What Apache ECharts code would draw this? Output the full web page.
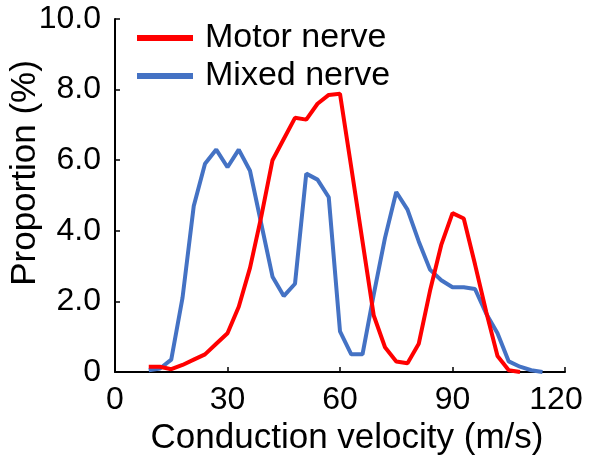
<!DOCTYPE html>
<html>
<head>
<meta charset="utf-8">
<script src="https://cdn.jsdelivr.net/npm/echarts@6/dist/echarts.min.js"></script>
<style>
html,body{margin:0;padding:0;background:#fff;}
#chart{width:600px;height:459px;}
</style>
</head>
<body>
<div id="chart"></div>
<script>
var velocity = [9,12,15,18,21,24,27,30,33,36,39,42,45,48,51,54,57,60,63,66,69,72,75,78,81,84,87,90,93,96,99,102,105,108,111,114];
var motorNerve = [0.15,0.15,0.08,0.2,0.35,0.5,0.8,1.1,1.85,2.95,4.4,6.0,6.6,7.2,7.15,7.6,7.85,7.88,5.8,3.7,1.6,0.7,0.3,0.25,0.8,2.3,3.6,4.5,4.35,3.05,1.7,0.45,0.05,0.0,null,null];
var mixedNerve = [0.05,0.1,0.35,2.1,4.7,5.9,6.3,5.8,6.3,5.7,4.2,2.7,2.15,2.5,5.62,5.45,4.95,1.15,0.5,0.5,2.2,3.8,5.1,4.6,3.7,2.9,2.6,2.4,2.4,2.35,1.65,1.1,0.3,0.15,0.05,0.0];
var seriesNames = ['Motor nerve','Mixed nerve'];
var xTicks = [0,30,60,90,120];
var yTicks = ['0','2.0','4.0','6.0','8.0','10.0'];

function pairs(xs, ys){
  var out = [];
  for (var i=0;i<xs.length;i++){ if (ys[i]!==null) out.push([xs[i], ys[i]]); }
  return out;
}
var FONT = 'Liberation Sans, Arial, sans-serif';
var chart = echarts.init(document.getElementById('chart'), null, {renderer:'canvas'});
chart.setOption({
  animation:false,
  backgroundColor:'#fff',
  grid:{left:115,right:35,top:19,bottom:87,containLabel:false,outerBoundsMode:'none'},
  legend:{
    orient:'vertical', left:132, top:16, itemWidth:56, itemHeight:6, itemGap:4,
    icon:'rect',
    textStyle:{fontFamily:FONT, fontSize:34, color:'#000', padding:[0,0,0,7]},
    data:seriesNames
  },
  xAxis:{
    type:'value', min:0, max:120, interval:30,
    name:'Conduction velocity (m/s)', nameLocation:'middle', nameGap:49, nameMoveOverlap:false,
    nameTextStyle:{fontFamily:FONT, fontSize:35, color:'#000', padding:[0,0,0,14]},
    axisLine:{lineStyle:{color:'#000', width:2}},
    axisTick:{inside:true, length:5, lineStyle:{color:'#000', width:1.5}},
    axisLabel:{fontFamily:FONT, fontSize:32, color:'#000', margin:12,
      formatter:function(v){
        if (xTicks.indexOf(v)<0) return '';
        return v===120 ? '{r|'+v+'}' : String(v);
      },
      rich:{r:{fontFamily:FONT, fontSize:32, color:'#000', padding:[0,18,0,0]}}
    },
    splitLine:{show:false}
  },
  yAxis:{
    type:'value', min:0, max:10, interval:2,
    name:'Proportion (%)', nameLocation:'middle', nameGap:72, nameRotate:90, nameMoveOverlap:false,
    nameTextStyle:{fontFamily:FONT, fontSize:35, color:'#000', padding:[0,0,0,45]},
    axisLine:{show:true, lineStyle:{color:'#000', width:2}},
    axisTick:{show:true, inside:true, length:5, lineStyle:{color:'#000', width:1.5}},
    axisLabel:{fontFamily:FONT, fontSize:32, color:'#000', margin:14,
      formatter:function(v){ return yTicks[Math.round(v/2)]; }},
    splitLine:{show:false}
  },
  series:[
    {name:seriesNames[0], type:'line', data:pairs(velocity, motorNerve), showSymbol:false,
     itemStyle:{color:'#ff0000'}, lineStyle:{color:'#ff0000', width:4}, z:3},
    {name:seriesNames[1], type:'line', data:pairs(velocity, mixedNerve), showSymbol:false,
     itemStyle:{color:'#4472c4'}, lineStyle:{color:'#4472c4', width:4}, z:2}
  ]
});
</script>
</body>
</html>
